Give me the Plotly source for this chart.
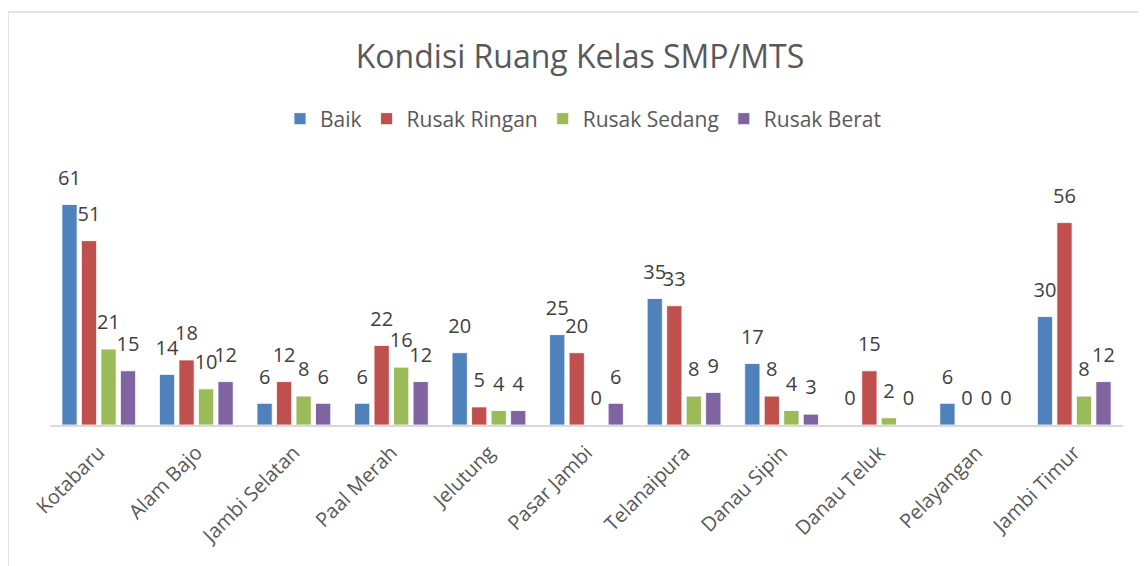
import plotly.graph_objects as go

categories = ["Kotabaru", "Alam Bajo", "Jambi Selatan", "Paal Merah", "Jelutung",
              "Pasar Jambi", "Telanaipura", "Danau Sipin", "Danau Teluk",
              "Pelayangan", "Jambi Timur"]
baik = [61, 14, 6, 6, 20, 25, 35, 17, 0, 6, 30]
rusak_ringan = [51, 18, 12, 22, 5, 20, 33, 8, 15, 0, 56]
rusak_sedang = [21, 10, 8, 16, 4, 0, 8, 4, 2, 0, 8]
rusak_berat = [15, 12, 6, 12, 4, 6, 9, 3, 0, 0, 12]

series = [("Baik", baik, "#4F81BD"),
          ("Rusak Ringan", rusak_ringan, "#C0504D"),
          ("Rusak Sedang", rusak_sedang, "#9BBB59"),
          ("Rusak Berat", rusak_berat, "#8064A2")]

FONT = "Open Sans"
fig = go.Figure()
for i, (name, vals, color) in enumerate(series):
    fig.add_trace(go.Bar(
        x=categories, y=vals, name=name, offsetgroup=str(i),
        marker=dict(color=color, line=dict(color="white", width=0.8)),
    ))
for i, (name, vals, color) in enumerate(series):
    fig.add_trace(go.Scatter(
        x=categories, y=vals, name=name, offsetgroup=str(i),
        mode="markers+text", showlegend=False, hoverinfo="skip",
        marker=dict(size=22, opacity=0, color=color),
        text=[str(v) for v in vals], textposition="top center",
        textfont=dict(family=FONT, size=20, color="#404040"),
        cliponaxis=False,
    ))

# page body has an 8px default margin; figure sized to fit the window
W, H = 1138, 558
OFF = 8
base = 425 - OFF
L, R, T = 50 - OFF, W - (1123 - OFF), 172 - OFF
B = H - base
pw = W - L - R
ph = H - T - B

fig.update_layout(
    width=W, height=H,
    margin=dict(l=L, r=R, t=T, b=B, autoexpand=False),
    paper_bgcolor="white", plot_bgcolor="white",
    barmode="group", bargap=0.2, bargroupgap=0.22,
    scattermode="group", scattergap=0.2,
    title=dict(text="Kondisi Ruang Kelas SMP/MTS", x=(580 - OFF) / W, xanchor="center",
               y=1 - (57 - OFF) / H, yanchor="middle", yref="container",
               font=dict(family=FONT, size=32, color="#595959")),
    legend=dict(orientation="h", x=(583 - OFF - L) / pw, xanchor="center",
                y=(base - (119 - OFF)) / ph,
                yanchor="middle", font=dict(family=FONT, size=21, color="#595959"),
                itemwidth=30, bgcolor="rgba(0,0,0,0)"),
    showlegend=True,
)
fig.update_xaxes(showline=True, linecolor="#D9D9D9", linewidth=2, ticks="",
                 tickangle=-45, tickfont=dict(family=FONT, size=20, color="#595959"),
                 ticklabelstandoff=6,
                 showgrid=False, automargin=False)
fig.update_yaxes(range=[0, 70], visible=False, showgrid=False, zeroline=False,
                 automargin=False)

fig.add_shape(type="rect", xref="paper", yref="paper",
              x0=(0 - L) / pw, x1=(W + 20 - L) / pw,
              y0=(base - (H + 20)) / ph, y1=(base - (12 - OFF)) / ph,
              line=dict(color="#D9D9D9", width=1.5), fillcolor="rgba(0,0,0,0)",
              layer="below")

fig.write_html("out.html")
